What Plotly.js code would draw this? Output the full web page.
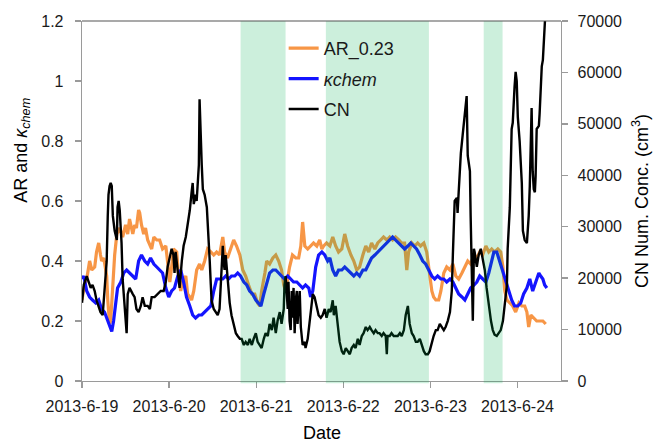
<!DOCTYPE html>
<html>
<head>
<meta charset="utf-8">
<script src="https://cdn.plot.ly/plotly-3.0.1.min.js"></script>
<style>html,body{margin:0;padding:0;background:#fff;}#chart{width:654px;height:444px;}</style>
</head>
<body>
<div id="chart"></div>
<script>
// Time axis: hours after 2013-06-19 00:00
const startDay = [2013, 5, 19];
const tickDates = ['2013-06-19','2013-06-20','2013-06-21','2013-06-22','2013-06-23','2013-06-24'];
const tickLabels = ['2013-6-19','2013-6-20','2013-6-21','2013-6-22','2013-6-23','2013-6-24'];

// AR_0.23
const arHours = [0,0.5,1.3,2.1,2.7,3.5,4.0,4.6,5.1,5.4,6.0,6.5,6.8,7.1,7.6,7.9,8.5,9.0,9.6,10.4,11.2,12.0,12.6,13.1,14.0,14.5,15.0,15.6,15.9,16.4,17.0,17.5,18.1,18.7,19.2,19.8,20.6,21.4,22.2,23.1,23.6,24.2,24.7,25.2,26.1,26.6,27.2,27.7,28.6,29.1,29.7,30.2,30.8,31.6,32.4,33.0,33.8,34.6,35.5,36.3,37.1,37.9,38.8,39.3,40.1,41.0,41.8,42.6,43.5,44.3,45.1,45.9,46.8,47.6,48.4,49.0,49.5,50.4,50.9,51.7,52.6,53.4,54.2,55.0,55.6,56.1,56.7,57.2,58.0,58.9,59.7,60.3,60.8,61.4,62.2,63.0,63.8,64.7,65.5,66.1,66.6,67.4,68.3,69.1,69.9,70.7,71.6,72.4,73.2,74.1,74.9,75.7,76.5,77.4,78.2,79.0,79.8,80.7,81.5,82.3,83.1,84.0,84.8,85.6,86.4,87.3,88.1,88.9,89.5,90.0,90.9,91.7,92.5,93.3,94.2,95.0,95.6,96.4,96.9,97.5,98.3,98.9,99.7,100.5,101.4,102.2,103.0,103.8,104.7,105.5,106.3,107.1,108.0,108.8,109.6,110.4,111.3,112.1,112.9,113.7,114.6,115.4,116.0,116.5,117.1,117.9,118.7,119.5,120.4,121.2,122.0,122.6,123.1,123.7,124.5,125.3,126.1,127.0,127.8];
const arValues = [0.27,0.31,0.34,0.40,0.37,0.38,0.43,0.46,0.42,0.40,0.41,0.37,0.35,0.27,0.19,0.20,0.32,0.42,0.49,0.51,0.48,0.52,0.49,0.54,0.49,0.52,0.51,0.57,0.56,0.52,0.49,0.51,0.47,0.45,0.44,0.48,0.47,0.47,0.44,0.45,0.40,0.33,0.38,0.44,0.43,0.35,0.30,0.33,0.35,0.29,0.28,0.27,0.30,0.37,0.39,0.37,0.40,0.44,0.43,0.42,0.43,0.42,0.48,0.43,0.41,0.44,0.47,0.45,0.42,0.37,0.35,0.32,0.29,0.29,0.26,0.25,0.30,0.36,0.40,0.39,0.41,0.42,0.40,0.37,0.32,0.30,0.35,0.38,0.42,0.41,0.41,0.45,0.53,0.45,0.44,0.45,0.46,0.45,0.47,0.44,0.45,0.46,0.45,0.48,0.45,0.43,0.44,0.49,0.45,0.42,0.40,0.37,0.38,0.42,0.45,0.43,0.46,0.44,0.46,0.47,0.48,0.47,0.48,0.47,0.48,0.47,0.46,0.46,0.37,0.43,0.46,0.45,0.46,0.45,0.46,0.43,0.38,0.30,0.28,0.27,0.27,0.30,0.36,0.38,0.37,0.39,0.35,0.34,0.36,0.38,0.40,0.39,0.42,0.41,0.43,0.42,0.45,0.43,0.44,0.43,0.44,0.43,0.38,0.30,0.27,0.26,0.25,0.23,0.26,0.25,0.25,0.23,0.18,0.22,0.21,0.20,0.20,0.20,0.19];

// kappa_chem
const kHours = [0,0.5,1.3,2.1,2.9,3.8,4.6,5.4,6.2,7.1,7.6,8.2,8.7,9.3,9.8,10.7,11.5,12.3,13.1,14.0,14.8,15.6,16.4,17.3,18.1,18.9,19.8,20.6,21.4,22.2,23.1,23.9,24.7,25.5,26.4,27.2,28.0,28.8,29.7,30.5,31.3,32.2,33.0,33.8,34.6,35.5,36.3,37.1,37.9,38.8,39.6,40.4,41.2,42.1,42.9,43.7,44.6,45.4,46.2,47.0,47.9,48.7,49.3,50.1,50.9,51.7,52.6,53.4,54.2,55.0,55.8,56.7,57.5,58.3,59.2,60.0,60.8,61.6,62.5,63.0,63.6,64.4,65.2,66.1,66.9,67.7,68.3,69.1,69.9,70.7,71.6,72.4,73.2,74.1,74.9,75.7,76.5,77.4,78.2,79.0,79.8,80.7,81.5,82.3,83.1,84.0,84.8,85.6,86.4,87.3,88.1,88.9,89.8,90.6,91.4,92.2,93.1,93.9,94.7,95.6,96.4,97.2,98.0,98.9,99.7,100.5,101.4,102.2,103.0,103.8,104.7,105.5,106.3,107.1,108.0,108.8,109.6,110.4,111.3,112.1,112.9,113.5,114.3,115.1,116.0,116.8,117.6,118.4,119.2,120.1,120.9,121.7,122.6,123.4,124.2,125.0,125.9,126.4,127.0,127.5,128.1];
const kValues = [0.34,0.35,0.30,0.28,0.27,0.26,0.27,0.24,0.23,0.20,0.18,0.165,0.20,0.27,0.31,0.33,0.36,0.37,0.36,0.35,0.34,0.40,0.42,0.40,0.39,0.41,0.39,0.38,0.37,0.36,0.31,0.28,0.30,0.31,0.35,0.37,0.33,0.28,0.25,0.22,0.21,0.22,0.22,0.23,0.24,0.25,0.30,0.34,0.34,0.34,0.35,0.34,0.35,0.35,0.36,0.35,0.33,0.32,0.30,0.29,0.27,0.26,0.25,0.29,0.33,0.36,0.37,0.37,0.36,0.35,0.34,0.35,0.34,0.33,0.33,0.32,0.31,0.32,0.31,0.28,0.30,0.38,0.42,0.43,0.42,0.40,0.41,0.37,0.35,0.37,0.37,0.38,0.37,0.36,0.35,0.36,0.35,0.37,0.37,0.39,0.41,0.42,0.43,0.44,0.45,0.46,0.47,0.48,0.47,0.46,0.45,0.44,0.45,0.46,0.45,0.44,0.42,0.40,0.39,0.37,0.35,0.34,0.35,0.34,0.34,0.33,0.34,0.33,0.31,0.29,0.28,0.27,0.29,0.31,0.32,0.33,0.35,0.34,0.33,0.36,0.40,0.43,0.43,0.40,0.36,0.33,0.30,0.27,0.25,0.25,0.26,0.29,0.31,0.34,0.30,0.33,0.36,0.35,0.34,0.32,0.31];

// CN number concentration (cm-3)
const cnHours = [0,0.5,1.3,1.8,2.4,2.9,3.5,4.0,4.6,5.1,5.7,6.2,6.8,7.1,7.3,7.6,7.9,8.2,8.5,9.0,9.6,9.8,10.1,10.4,10.9,11.2,11.8,12.3,12.6,13.1,14.0,14.5,15.0,15.6,16.2,16.7,17.3,18.1,18.7,19.2,20.0,20.9,21.7,22.5,23.1,23.6,24.2,24.7,25.2,25.5,25.8,26.4,26.9,27.5,28.0,28.6,29.1,29.7,30.2,30.5,30.8,31.3,31.6,31.9,32.2,32.4,32.7,33.0,33.3,33.8,34.4,34.6,34.9,35.2,35.5,35.7,36.3,36.8,37.4,37.9,38.2,38.5,38.8,39.0,39.3,39.6,39.9,40.1,40.7,41.2,41.8,42.4,42.9,43.5,44.0,44.6,45.1,45.7,46.2,46.8,47.3,47.9,48.4,49.0,49.5,50.1,50.6,51.2,51.7,52.3,52.8,53.4,53.9,54.5,55.0,55.6,55.8,56.1,56.4,56.7,56.9,57.2,57.5,57.8,58.0,58.3,58.6,58.9,59.2,59.4,59.7,60.0,60.3,60.5,60.8,61.4,61.6,62.2,62.7,63.3,63.6,64.1,64.7,65.2,65.8,66.3,66.9,67.4,68.0,68.5,69.1,69.4,69.9,70.5,71.0,71.6,72.1,72.7,73.2,73.8,74.3,74.9,75.4,76.0,76.5,77.1,77.6,78.2,78.7,79.3,79.8,80.4,80.9,81.5,82.0,82.6,83.1,83.7,84.0,84.2,84.8,85.3,85.9,86.4,87.0,87.6,88.1,88.7,89.2,89.8,90.3,90.9,91.4,92.0,92.5,93.1,93.6,94.2,94.7,95.3,95.8,96.4,96.9,97.5,98.0,98.6,99.1,99.7,100.2,100.8,101.4,101.9,102.2,102.5,102.7,103.3,103.5,103.8,104.4,104.9,105.5,106.0,106.3,106.9,107.1,107.4,107.7,108.0,108.2,108.8,109.3,109.9,110.4,111.0,111.5,112.1,112.7,113.2,113.7,114.3,114.9,115.4,116.0,116.5,117.1,117.3,117.9,118.4,118.7,119.2,119.5,119.8,120.1,120.6,121.2,121.5,122.0,122.6,123.1,123.4,123.9,124.2,124.5,124.8,125.0,125.3,125.9,126.1,126.4,126.7,127.0,127.5,127.8];
const cnValues = [15200,18700,20400,19300,18100,18700,17500,15700,14600,13400,12800,17500,23300,32100,36200,37900,38500,37900,32100,29200,27400,33800,35000,33200,26800,19800,14600,9300,16900,18100,16900,16300,14000,13400,14600,16300,14600,14600,14000,16300,16300,16900,17500,17500,19300,22200,24500,25700,24500,21000,25100,21600,18100,23300,26300,28000,30300,33200,36700,38500,34400,36200,35000,37900,42000,54800,46700,42000,37300,36200,33800,31500,28000,23300,18700,15700,14000,13400,12800,14000,17500,22200,26300,23300,21600,24500,22200,19300,15200,12800,11100,9300,8750,8200,8200,7000,7600,7000,8200,7000,8200,9300,7600,7000,6400,8200,9300,8750,11100,9900,12300,9300,11700,13400,11100,14000,18700,20400,16300,14000,19300,11700,9900,17500,12300,18100,9300,15700,17500,11100,14600,17500,10500,8200,7000,7600,6400,8200,11700,14600,16900,16300,14600,12800,12300,12800,14000,12300,14000,13400,15700,12800,14600,9900,7600,5800,5200,6400,5800,5200,6400,7000,6400,8200,7000,8750,9300,10500,9900,10500,9900,9300,9900,9300,9300,8750,9300,8750,5200,8750,8750,9300,8750,8750,8750,9300,8750,9900,12800,14600,11100,9300,8750,7600,7600,8200,7000,5800,5200,5200,5800,7600,8750,9900,9900,11100,10500,9900,10500,11700,13400,17500,24500,32100,35000,35600,32700,36700,44300,47800,52500,55400,43800,40800,32100,20400,11700,25700,25100,22200,24500,25700,23900,21600,18100,14600,11700,9900,9000,8750,9300,9900,11700,14600,18700,25700,33800,49000,50200,57200,60100,58300,51300,46700,38500,29200,27400,26800,32100,37900,53100,40800,37300,36700,39700,49000,49600,51900,57200,61200,62400,68800,72900];

// shaded periods (hours after start)
const bandStartHours = [43.7, 67.2, 110.7];
const bandEndHours = [56.1, 95.6, 115.9];

function toDate(h) {
  const ms = Date.UTC(startDay[0], startDay[1], startDay[2]) + Math.round(h * 3600000);
  return new Date(ms).toISOString().slice(0, 19).replace('T', ' ');
}

const font = 'Arial, "Liberation Sans", sans-serif';

const traces = [
  {x: arHours.map(toDate), y: arValues, name: 'AR_0.23', type: 'scatter', mode: 'lines',
   line: {color: '#F79646', width: 3.2}, legendgroup: 'a'},
  {x: kHours.map(toDate), y: kValues, name: '<i>κchem</i>', type: 'scatter', mode: 'lines',
   line: {color: '#1414FF', width: 3.2}, legendgroup: 'b'},
  {x: cnHours.map(toDate), y: cnValues, name: 'CN', type: 'scatter', mode: 'lines', yaxis: 'y2',
   line: {color: '#000000', width: 2.4}, legendgroup: 'c'}
];

const shapes = bandStartHours.map((s, i) => ({
  type: 'rect', xref: 'x', yref: 'paper', x0: toDate(s), x1: toDate(bandEndHours[i]),
  y0: -0.006, y1: 1, fillcolor: 'rgba(0,176,80,0.2)', line: {width: 0}, layer: 'above'
}));
shapes.push({type: 'line', xref: 'paper', yref: 'paper', x0: 0, x1: 1, y0: 1, y1: 1,
  line: {color: '#555', width: 1.2}});

const axisCommon = {
  showgrid: false, zeroline: false, showline: true, linecolor: '#9a9a9a', linewidth: 1.3,
  ticks: 'outside', ticklen: 6, tickcolor: '#9a9a9a', tickwidth: 1.3,
  tickfont: {family: font, size: 16, color: '#1a1a1a'}
};

const layout = {
  width: 654, height: 444,
  margin: {l: 82, r: 93, t: 21, b: 63, pad: 0},
  paper_bgcolor: '#fff', plot_bgcolor: '#fff',
  font: {family: font, color: '#000'},
  showlegend: true,
  legend: {x: 0.421, y: 0.975, xanchor: 'left', yanchor: 'top', bgcolor: 'rgba(0,0,0,0)',
    font: {family: font, size: 18, color: '#1a1a1a'}, traceorder: 'grouped', tracegroupgap: 4},
  xaxis: Object.assign({}, axisCommon, {
    type: 'date', range: [toDate(0), toDate(132)],
    tickvals: tickDates, ticktext: tickLabels, ticklabelstandoff: 4
  }),
  yaxis: Object.assign({}, axisCommon, {
    range: [0, 1.2], tickvals: [0, 0.2, 0.4, 0.6, 0.8, 1, 1.2],
    ticktext: ['0', '0.2', '0.4', '0.6', '0.8', '1', '1.2'], ticklabelstandoff: 8
  }),
  yaxis2: Object.assign({}, axisCommon, {
    overlaying: 'y', side: 'right', range: [0, 70000], dtick: 10000,
    tickformat: 'd', ticklabelstandoff: 6
  }),
  shapes: shapes,
  annotations: [
    {text: 'Date', xref: 'paper', yref: 'paper', x: 0.5, y: -0.112, xanchor: 'center', yanchor: 'top',
     showarrow: false, font: {family: font, size: 18, color: '#000'}},
    {text: 'AR and <i>κ</i><sub><i>chem</i></sub>', xref: 'paper', yref: 'paper', x: -0.125, y: 0.64,
     xanchor: 'center', yanchor: 'middle', textangle: -90, showarrow: false,
     font: {family: font, size: 18, color: '#000'}},
    {text: 'CN Num. Conc. (cm<sup>3</sup>)', xref: 'paper', yref: 'paper', x: 1.165, y: 0.5,
     xanchor: 'center', yanchor: 'middle', textangle: -90, showarrow: false,
     font: {family: font, size: 18, color: '#000'}}
  ]
};

Plotly.newPlot('chart', traces, layout, {displayModeBar: false, staticPlot: true});
</script>
</body>
</html>
